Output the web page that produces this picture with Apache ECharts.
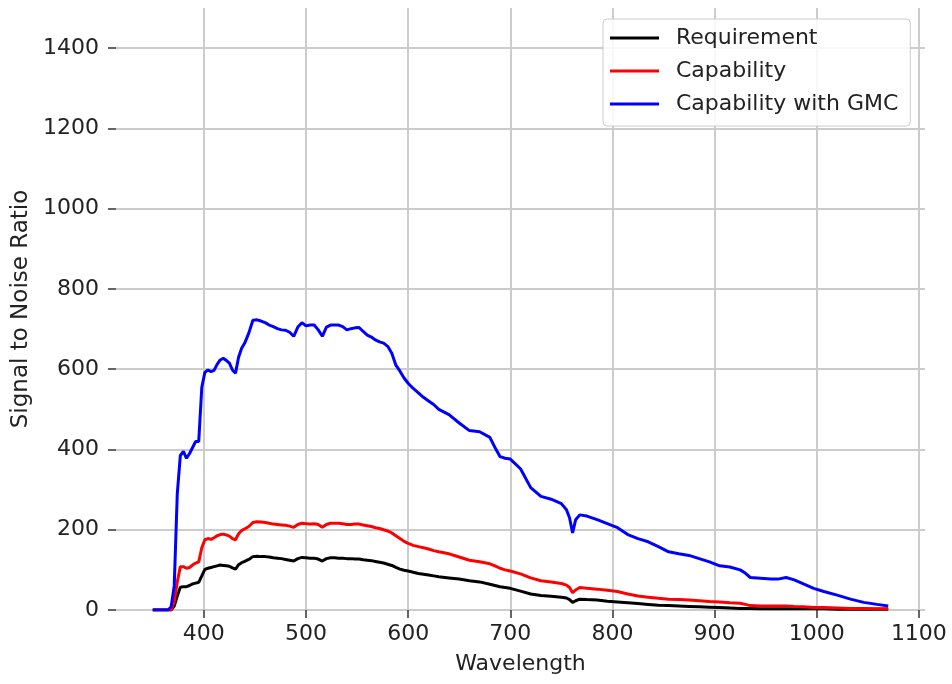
<!DOCTYPE html>
<html>
<head>
<meta charset="utf-8">
<script src="https://cdn.jsdelivr.net/npm/echarts@6/dist/echarts.min.js"></script>
<style>
html,body{margin:0;padding:0;background:#fff;}
#chart{width:952px;height:684px;}
</style>
</head>
<body>
<div id="chart"></div>
<script>
const wavelength = [350,355,360,365,368,371,374,377,380,383,386,389,392,395,398,401,404,407,410,413,416,419,422,425,428,431,434,437,440,444,448,452,456,460,464,468,472,476,480,484,488,492,496,500,504,508,512,516,520,524,528,532,536,540,544,548,552,556,560,564,568,572,576,580,584,588,592,596,600,605,610,615,620,625,630,640,650,660,670,680,685,690,695,700,710,720,730,740,750,755,758,761,764,768,775,785,795,805,815,825,835,845,855,865,875,885,895,905,915,925,930,935,945,955,962,970,978,987,997,1007,1020,1033,1046,1059,1070];

const requirement = [0,0,0,0,0,10,35,57,58,58,61,65,67,69,85,101,104,106,108,110,112,111,110,109,105,102,113,118,121,126,133,134,133,133,132,130,129,128,126,124,122,128,131,130,129,129,127,122,128,130,130,129,129,128,128,127,127,125,124,123,121,119,117,114,111,106,102,99,97,94,91,89,87,85,83,80,77,73,70,64,61,58,56,54,47,40,36,34,32,30,26,19,23,27,26,25,22,20,18,16,14,12,11,10,9,8,7,6,5,4,4,4,3,3,3,3,3,3,3,3,2,2,2,2,2];

const capability = [0,0,0,0,0,20,70,108,108,104,106,112,117,120,155,175,178,176,180,185,188,189,187,184,178,175,190,198,202,208,218,220,219,218,216,214,213,212,211,209,206,213,216,215,214,215,213,206,213,216,216,216,215,213,213,214,214,212,210,208,205,203,200,197,192,185,178,171,166,161,158,155,152,148,145,140,132,124,120,115,110,104,100,97,90,80,73,70,66,62,56,43,50,56,54,52,49,46,40,35,32,29,27,26,25,23,21,20,18,17,14,11,10,10,10,10,9,8,6,6,5,4,4,3,3];

const capabilityGMC = [0,0,0,0,8,60,290,385,395,378,390,405,420,420,555,592,598,594,597,612,623,627,622,615,598,590,630,652,665,690,722,723,720,716,710,706,701,698,697,692,682,705,716,708,710,710,698,682,705,710,710,710,706,698,701,703,704,694,685,680,673,668,665,657,640,610,595,578,565,552,541,530,521,512,500,487,466,447,444,430,405,382,378,376,352,305,283,276,265,250,230,192,225,237,234,225,215,205,188,178,170,158,145,140,136,128,120,110,107,100,92,81,79,77,77,81,75,65,54,46,37,27,19,14,10];

const seriesNames = ['Requirement', 'Capability', 'Capability with GMC'];
const seriesColors = ['#000000', '#ff0000', '#0000ff'];
const xTicks = [400,500,600,700,800,900,1000,1100];
const yTicks = [0,200,400,600,800,1000,1200,1400];

const FONT = 'DejaVu Sans';
const chart = echarts.init(document.getElementById('chart'), null, {renderer: 'canvas'});

const allData = [requirement, capability, capabilityGMC];

const option = {
  animation: false,
  backgroundColor: '#ffffff',
  grid: {left: 116, right: 27, top: 8, bottom: 74, containLabel: false},
  legend: {
    orient: 'vertical',
    left: 603,
    top: 19,
    padding: [7, 12, 10, 7],
    icon: 'rect',
    itemWidth: 49,
    itemHeight: 3,
    itemGap: 9,
    backgroundColor: 'rgba(255,255,255,0.85)',
    borderColor: '#cccccc',
    borderWidth: 1,
    borderRadius: 4,
    data: seriesNames,
    textStyle: {fontFamily: FONT, fontSize: 22, lineHeight: 24, color: '#222', padding: [0, 0, 0, 12]}
  },
  xAxis: {
    type: 'value',
    min: 314,
    max: 1106,
    name: 'Wavelength',
    nameLocation: 'middle',
    nameGap: 43,
    nameTextStyle: {fontFamily: FONT, fontSize: 22, color: '#222'},
    axisLine: {show: false},
    axisTick: {show: true, length: 8, customValues: xTicks, lineStyle: {color: '#333', width: 1.5}},
    axisLabel: {customValues: xTicks, margin: 13, fontFamily: FONT, fontSize: 22, color: '#222', formatter: v => String(v)},
    splitLine: {show: true, lineStyle: {color: '#cccccc', width: 2}}
  },
  yAxis: {
    type: 'value',
    min: 0,
    max: 1500,
    name: 'Signal to Noise Ratio',
    nameLocation: 'middle',
    nameGap: 82,
    nameTextStyle: {fontFamily: FONT, fontSize: 23, color: '#222'},
    axisLine: {show: false},
    axisTick: {show: true, length: 8, customValues: yTicks, lineStyle: {color: '#333', width: 1.5}},
    axisLabel: {customValues: yTicks, margin: 17, fontFamily: FONT, fontSize: 22, color: '#222', formatter: v => String(v)},
    splitLine: {show: true, lineStyle: {color: '#cccccc', width: 2}}
  },
  series: seriesNames.map((name, k) => ({
    name: name,
    type: 'line',
    symbol: 'none',
    showSymbol: false,
    color: seriesColors[k],
    lineStyle: {color: seriesColors[k], width: 3},
    data: wavelength.map((w, i) => [w, allData[k][i]])
  }))
};
chart.setOption(option);
</script>
</body>
</html>
